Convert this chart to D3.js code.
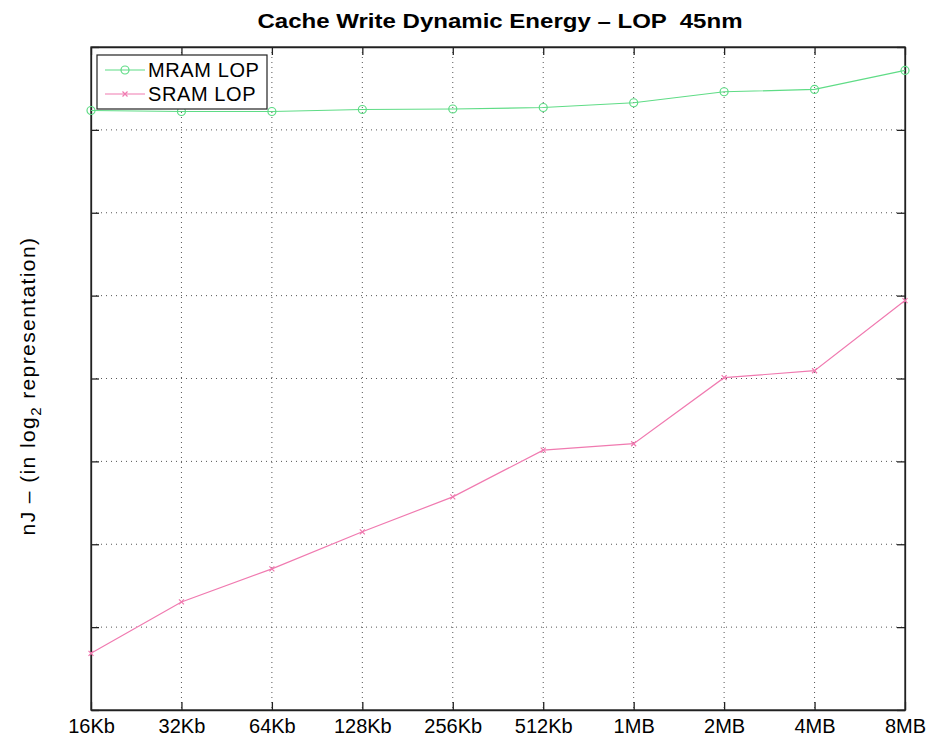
<!DOCTYPE html>
<html>
<head>
<meta charset="utf-8">
<script src="https://cdn.jsdelivr.net/npm/d3@7"></script>
<style>
  body { margin: 0; background: #fff; }
  text { font-family: "Liberation Sans", Arial, sans-serif; }
</style>
</head>
<body>
<div id="chart"></div>
<script>
// Data (log2 units)
const sizes = ["16Kb", "32Kb", "64Kb", "128Kb", "256Kb", "512Kb", "1MB", "2MB", "4MB", "8MB"];
const mramLop = [7.234, 7.222, 7.222, 7.246, 7.252, 7.27, 7.327, 7.46, 7.488, 7.717];
const sramLop = [0.684, 1.304, 1.703, 2.15, 2.572, 3.136, 3.213, 4.01, 4.094, 4.94];
const yTicks = [0, 1, 2, 3, 4, 5, 6, 7, 8];

const W = 928, H = 737;
const margin = { top: 47, right: 23, bottom: 27, left: 91 },
    width = W - margin.left - margin.right,
    height = H - margin.top - margin.bottom;

const svg = d3.select("#chart").append("svg")
    .attr("width", W)
    .attr("height", H);

const g = svg.append("g")
    .attr("transform", "translate(" + margin.left + "," + margin.top + ")");

const x = d3.scalePoint().domain(sizes).range([0, width]);
const y = d3.scaleLinear().domain([0, 8]).range([height, 0]);

// Grid lines (dotted)
g.append("g").selectAll("line")
    .data(sizes.slice(1, -1))
    .join("line")
    .attr("x1", d => x(d)).attr("x2", d => x(d))
    .attr("y1", 0).attr("y2", height)
    .attr("stroke", "#555").attr("stroke-width", 1)
    .attr("stroke-dasharray", "1,4");
g.append("g").selectAll("line")
    .data(yTicks.slice(1, -1))
    .join("line")
    .attr("x1", 0).attr("x2", width)
    .attr("y1", d => y(d)).attr("y2", d => y(d))
    .attr("stroke", "#555").attr("stroke-width", 1)
    .attr("stroke-dasharray", "1,4");

// Axes with inward ticks
const tickLen = 8;
const xAxis = g.append("g")
    .attr("transform", "translate(0," + height + ")")
    .call(d3.axisBottom(x).tickSizeInner(-tickLen).tickSizeOuter(0));
xAxis.selectAll("text")
    .attr("y", 23).attr("dy", 0)
    .attr("font-size", 20).attr("fill", "#000")
    .style("font-family", "'Liberation Sans', Arial, sans-serif");
g.append("g")
    .call(d3.axisTop(x).tickSizeInner(-tickLen).tickSizeOuter(0).tickFormat(""));
g.append("g")
    .call(d3.axisLeft(y).tickValues(yTicks).tickSizeInner(-tickLen).tickSizeOuter(0).tickFormat(""));
g.append("g")
    .attr("transform", "translate(" + width + ",0)")
    .call(d3.axisRight(y).tickValues(yTicks).tickSizeInner(-tickLen).tickSizeOuter(0).tickFormat(""));
g.selectAll(".domain").attr("stroke", "#222").attr("stroke-width", 1.3);
g.selectAll(".tick line").attr("stroke", "#222").attr("stroke-width", 1.3);

// Frame
g.append("rect")
    .attr("width", width).attr("height", height)
    .attr("fill", "none").attr("stroke", "#222").attr("stroke-width", 1.3);

const green = "#5fdc86", pink = "#f07ab0";

const line = d3.line().x((d, i) => x(sizes[i])).y(d => y(d));

// MRAM series
g.append("path").datum(mramLop)
    .attr("d", line).attr("fill", "none")
    .attr("stroke", green).attr("stroke-width", 1.2);
g.append("g").selectAll("circle")
    .data(mramLop)
    .join("circle")
    .attr("cx", (d, i) => x(sizes[i]))
    .attr("cy", d => y(d))
    .attr("r", 4)
    .attr("fill", "none").attr("stroke", green).attr("stroke-width", 1.2);

// SRAM series
const xMark = d3.symbol().type(d3.symbolX).size(18);
g.append("path").datum(sramLop)
    .attr("d", line).attr("fill", "none")
    .attr("stroke", pink).attr("stroke-width", 1.2);
g.append("g").selectAll("path")
    .data(sramLop)
    .join("path")
    .attr("d", xMark)
    .attr("transform", (d, i) => "translate(" + x(sizes[i]) + "," + y(d) + ")")
    .attr("fill", "none").attr("stroke", pink).attr("stroke-width", 1.2);

// Legend
const legend = svg.append("g").attr("transform", "translate(97,55)");
legend.append("rect")
    .attr("width", 170).attr("height", 54)
    .attr("fill", "#fff").attr("stroke", "#222").attr("stroke-width", 1.2);
const legendItems = [
    { name: "MRAM LOP", color: green, mark: "o" },
    { name: "SRAM LOP", color: pink, mark: "x" }
];
legendItems.forEach((it, i) => {
    const ly = 15 + i * 24;
    legend.append("line")
        .attr("x1", 8).attr("x2", 48).attr("y1", ly).attr("y2", ly)
        .attr("stroke", it.color).attr("stroke-width", 1.2);
    if (it.mark === "o") {
        legend.append("circle").attr("cx", 28).attr("cy", ly).attr("r", 4)
            .attr("fill", "none").attr("stroke", it.color).attr("stroke-width", 1.2);
    } else {
        legend.append("path").attr("d", xMark)
            .attr("transform", "translate(28," + ly + ")")
            .attr("fill", "none").attr("stroke", it.color).attr("stroke-width", 1.2);
    }
    legend.append("text")
        .attr("x", 51).attr("y", ly).attr("dy", "0.36em")
        .attr("font-size", 20).attr("fill", "#000")
        .attr("letter-spacing", 0.6)
        .text(it.name);
});

// Title
svg.append("text")
    .attr("x", 500).attr("y", 28)
    .attr("text-anchor", "middle")
    .attr("font-size", 20).attr("font-weight", "bold")
    .attr("textLength", 485).attr("lengthAdjust", "spacingAndGlyphs")
    .style("white-space", "pre")
    .text("Cache Write Dynamic Energy \u2013 LOP  45nm");

// Y label
const yl = svg.append("text")
    .attr("transform", "translate(35,386) rotate(-90)")
    .attr("text-anchor", "middle")
    .attr("font-size", 21)
    .attr("letter-spacing", 1.4);
yl.append("tspan").text("nJ \u2013 (in log");
yl.append("tspan").attr("font-size", 15).attr("dy", 6).text("2");
yl.append("tspan").attr("dy", -6).text(" representation)");
</script>
</body>
</html>
